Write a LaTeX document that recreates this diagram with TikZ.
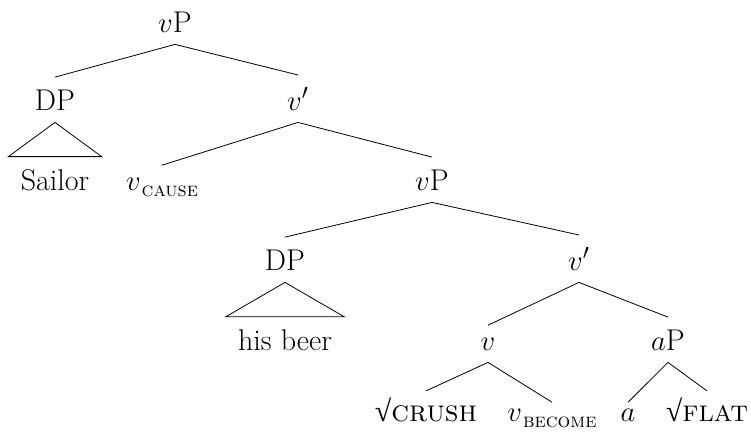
\documentclass[tikz,border=0pt]{standalone}
\usepackage{fontspec}
\newfontfamily\rootfont{Liberation Serif}
\newcommand{\rt}[1]{{\rootfont √}\textsc{#1}}
\newcommand{\flav}[1]{$v$\kern.5pt\raisebox{-3pt}{\fontsize{10}{10}\selectfont\textsc{#1}}}
\begin{document}
\fontsize{15}{18}\selectfont
\begin{tikzpicture}[x=0.5pt,y=-0.5pt,
  cat/.style={anchor=base,inner xsep=2pt,inner ysep=6pt,text depth=0pt},
  word/.style={anchor=base,inner xsep=2pt,inner ysep=3pt,text depth=0pt},
  tri/.style={anchor=base,inner xsep=6pt,inner ysep=6pt,text depth=0pt}]
\useasboundingbox (0,0) rectangle (751,436);
% Top of the tree
\node[cat] (vp) at (175,32) {$v$P};
\node[cat] (dp) at (55,110) {DP};
\node[cat] (vbar) at (298,110) {$v'$};
\draw (vp.south) -- (dp.north);
\draw (vp.south) -- (vbar.north);
% Subject under a triangle
\node[tri] (sailor) at (55,190) {Sailor};
\draw (dp.south) -- (sailor.north west) -- (sailor.north east) -- cycle;
% Lower vP
\node[cat] (vcause) at (162,190) {\flav{cause}};
\node[cat] (vpb) at (432,190) {$v$P};
\draw (vbar.south) -- (vcause.north);
\draw (vbar.south) -- (vpb.north);
\node[cat] (dpb) at (285,270) {DP};
\node[cat] (vbarb) at (579,270) {$v'$};
\draw (vpb.south) -- (dpb.north);
\draw (vpb.south) -- (vbarb.north);
% Object under a triangle
\node[tri] (beer) at (285,350) {his beer};
\draw (dpb.south) -- (beer.north west) -- (beer.north east) -- cycle;
% v and aP
\node[cat] (vhead) at (488,350) {$v$};
\node[cat] (ap) at (668,350) {$a$P};
\draw (vbarb.south) -- (vhead.north);
\draw (vbarb.south) -- (ap.north);
% Roots and heads
\node[word] (crush) at (426,421) {\rt{crush}};
\node[word] (become) at (552,421) {\flav{become}};
\node[word] (ahead) at (628,421) {$a$};
\node[word] (flat) at (707,421) {\rt{flat}};
\draw (vhead.south) -- (crush.north);
\draw (vhead.south) -- (become.north);
\draw (ap.south) -- (ahead.north);
\draw (ap.south) -- (flat.north);
\end{tikzpicture}
\end{document}
